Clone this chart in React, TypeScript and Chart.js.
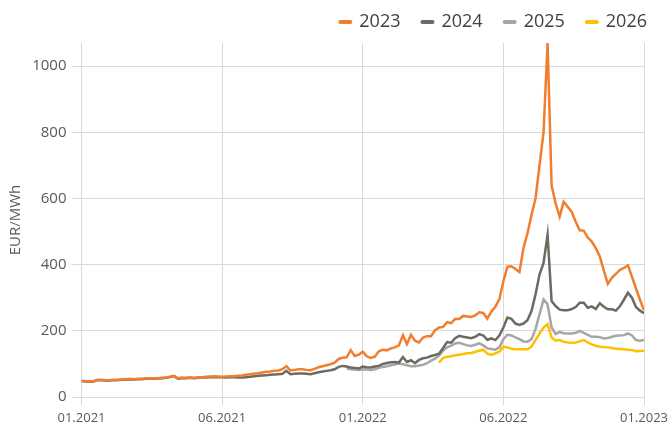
import React, { useEffect, useRef } from 'react';
import { Chart, registerables } from 'chart.js';

Chart.register(...registerables);

// x axis: index steps from 01.2021 (0) to 01.2023 (140)
const N_STEPS = 140;
const TICK_LABELS = ['01.2021', '06.2021', '01.2022', '06.2022', '01.2023'];
const Y_TICKS = [0, 200, 400, 600, 800, 1000];
const Y_MAX = 1070;

const SERIES_NAMES = ['2023', '2024', '2025', '2026'];
const SERIES_COLORS = ['#F07E2E', '#6B6B61', '#A6A6A6', '#FFC000'];

// EUR/MWh, one value per step
const CAL_2023 = [
  49, 48, 47, 48, 52, 52, 51, 51, 52, 52,
  53, 54, 55, 54, 55, 55, 56, 56, 57, 57,
  58, 59, 61, 64, 57, 59, 58, 59, 58, 59,
  60, 61, 62, 63, 62, 61, 62, 63, 63, 64,
  65, 67, 69, 71, 72, 74, 76, 77, 79, 80,
  84, 93, 80, 82, 84, 84, 82, 81, 85, 90,
  93, 96, 99, 104, 115, 119, 120, 142, 124, 128,
  137, 123, 118, 122, 138, 143, 141, 147, 150, 156,
  187, 160, 188, 170, 165, 180, 184, 184, 202, 210,
  212, 226, 223, 236, 236, 245, 243, 242, 247, 256,
  254, 237, 258, 273, 295, 350, 394, 395, 387, 378,
  450, 495, 550, 600, 700, 800, 1070, 640, 585, 545,
  590, 575, 560, 530, 504, 503, 482, 470, 450, 425,
  382, 342, 360, 372, 384, 390, 398, 364, 328, 294, 262,
];

const CAL_2024 = [
  48, 47, 46, 47, 51, 51, 50, 50, 51, 51,
  52, 53, 54, 53, 54, 54, 55, 55, 56, 56,
  57, 58, 60, 63, 55, 57, 57, 58, 57, 58,
  59, 59, 60, 60, 60, 60, 59, 60, 60, 59,
  59, 60, 61, 63, 64, 65, 66, 67, 68, 69,
  70, 79, 69, 70, 71, 71, 70, 69, 72, 75,
  77, 79, 81, 84, 91, 94, 92, 89, 88, 86,
  92, 90, 89, 92, 94, 100, 103, 105, 106, 104,
  121, 106, 111, 102, 112, 117, 119, 124, 127, 131,
  148, 166, 164, 178, 185, 182, 180, 178, 182, 190,
  186, 173, 177, 172, 186, 210, 240, 236, 222, 218,
  222, 232, 260, 310, 370, 405, 490, 290, 275, 264,
  262, 262, 266, 272, 285, 285, 270, 274, 266, 283,
  273, 265, 265, 261, 274, 294, 315, 300, 272, 261, 253,
];

const CAL_2025_START = 66;
const CAL_2025 = [
  86, 84, 83, 82,
  84, 83, 82, 84, 88, 91, 93, 96, 98, 101,
  99, 96, 93, 93, 95, 97, 102, 110, 116, 125,
  140, 150, 155, 162, 164, 160, 156, 154, 158, 162,
  156, 147, 145, 143, 150, 175, 188, 186, 180, 175,
  168, 167, 175, 205, 250, 295, 280, 210, 190, 196,
  193, 192, 192, 194, 200, 194, 188, 182, 182, 181,
  177, 178, 182, 185, 186, 187, 192, 186, 172, 170, 172,
];

const CAL_2026_START = 89;
const CAL_2026 = [
  104,
  118, 122, 123, 126, 128, 130, 132, 133, 136, 140,
  143, 131, 127, 132, 137, 152, 150, 146, 144, 144,
  144, 144, 152, 172, 192, 210, 220, 180, 170, 172,
  167, 165, 164, 165, 168, 172, 165, 159, 155, 152,
  151, 150, 148, 146, 145, 144, 143, 142, 138, 139, 140,
];

const FONT = "'Open Sans', sans-serif";
const TEXT_COLOR = '#595959';
const GRID_COLOR = '#D9D9D9';

const toPoints = (values: number[], start: number) =>
  values.map((y, k) => ({ x: start + k, y }));

const legendSizePlugin = {
  id: 'legendSize',
  beforeInit(chart: any) {
    const lg = chart.legend;
    if (!lg || lg.__patched) return;
    const orig = lg.fit;
    lg.fit = function () {
      orig.call(this);
      this.height = 52;
    };
    lg.__patched = true;
  },
};

export default function App() {
  const ref = useRef<HTMLCanvasElement | null>(null);

  useEffect(() => {
    if (!ref.current) return;
    const seriesValues = [CAL_2023, CAL_2024, CAL_2025, CAL_2026];
    const seriesStarts = [0, 0, CAL_2025_START, CAL_2026_START];
    const chart = new Chart(ref.current, {
      type: 'line',
      data: {
        datasets: SERIES_NAMES.map((name, i) => ({
          label: name,
          data: toPoints(seriesValues[i], seriesStarts[i]),
          borderColor: SERIES_COLORS[i],
          backgroundColor: SERIES_COLORS[i],
          borderWidth: 2.5,
          pointRadius: 0,
          tension: 0,
          fill: false,
        })),
      },
      options: {
        animation: false,
        responsive: true,
        maintainAspectRatio: false,
        parsing: false as any,
        layout: { padding: { top: -9, left: 0, right: 0, bottom: 0 } },
        plugins: {
          tooltip: { enabled: false },
          legend: {
            position: 'top',
            align: 'end',
            labels: {
              usePointStyle: true,
              pointStyleWidth: 10,
              padding: 22,
              color: '#404040',
              font: { family: FONT, size: 18 },
              generateLabels: (c: any) =>
                c.data.datasets.map((ds: any, i: number) => ({
                  text: ds.label,
                  fillStyle: ds.borderColor,
                  strokeStyle: ds.borderColor,
                  lineWidth: 4,
                  lineCap: 'round',
                  pointStyle: 'line',
                  hidden: false,
                  datasetIndex: i,
                  fontColor: '#404040',
                })),
            },
          },
        },
        scales: {
          x: {
            type: 'linear',
            min: 0,
            max: N_STEPS,
            afterBuildTicks: (s: any) => {
              s.ticks = TICK_LABELS.map((_, k) => ({
                value: (k * N_STEPS) / (TICK_LABELS.length - 1),
              }));
            },
            ticks: {
              autoSkip: false,
              maxRotation: 0,
              padding: 5,
              color: TEXT_COLOR,
              font: { family: FONT, size: 13 },
              callback: (v: any) =>
                TICK_LABELS[Math.round((Number(v) * (TICK_LABELS.length - 1)) / N_STEPS)],
            },
            grid: { color: GRID_COLOR, tickLength: 8, lineWidth: 1 },
            border: { color: GRID_COLOR },
            afterFit: (s: any) => {
              s.height = 32;
              s.paddingRight = 25;
              s.paddingLeft = 0;
            },
          },
          y: {
            min: 0,
            max: Y_MAX,
            afterBuildTicks: (s: any) => {
              s.ticks = Y_TICKS.map((v) => ({ value: v }));
            },
            ticks: {
              padding: 5,
              color: TEXT_COLOR,
              font: { family: FONT, size: 15 },
              callback: (v: any) => String(v),
            },
            grid: { color: GRID_COLOR, tickLength: 10, lineWidth: 1 },
            border: { color: GRID_COLOR },
            title: {
              display: true,
              text: 'EUR/MWh',
              color: TEXT_COLOR,
              font: { family: FONT, size: 15 },
              padding: { top: 7, bottom: 0 },
            },
            afterFit: (s: any) => {
              s.width = 81.5;
            },
          },
        },
      },
      plugins: [legendSizePlugin],
    } as any);
    return () => chart.destroy();
  }, []);

  return (
    <div style={{ position: 'absolute', left: 0, top: 0, width: 669, height: 429 }}>
      <canvas ref={ref} />
    </div>
  );
}
